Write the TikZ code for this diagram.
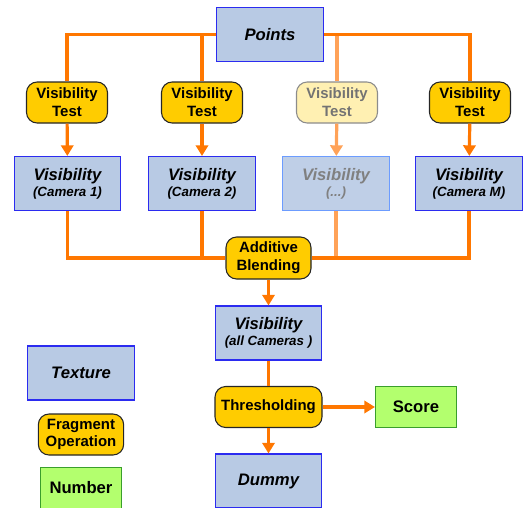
\documentclass[tikz,border=0pt]{standalone}
\usepackage{fontspec}
\setmainfont{Liberation Sans}
\usetikzlibrary{arrows.meta, positioning}

\definecolor{texfill}{HTML}{B8CAE4}
\definecolor{texline}{HTML}{2B2BF0}
\definecolor{texpale}{HTML}{6C9CFF}
\definecolor{opfill}{HTML}{FFCC00}
\definecolor{numfill}{HTML}{B3FF6E}
\definecolor{numline}{HTML}{3A9E2C}
\definecolor{flow}{HTML}{FF7700}
\definecolor{flowpale}{HTML}{FFA258}

\newcommand{\vislabel}[1]{Visibility\\[-1pt]{\fontsize{10}{11}\selectfont #1}}

\begin{document}
\begin{tikzpicture}[
  x=0.75pt, y=-0.75pt,
  tex/.style={
    rectangle, draw=texline, fill=texfill, line width=0.8pt,
    minimum width=80pt, minimum height=40.5pt, inner sep=0pt,
    align=center, font=\fontsize{12.5}{13}\selectfont\bfseries\itshape
  },
  fragop/.style={
    rectangle, draw=black!85, fill=opfill, line width=0.8pt,
    rounded corners=8pt,
    minimum width=60.75pt, minimum height=30.75pt, inner sep=0pt,
    align=center, font=\fontsize{11.2}{13.3}\selectfont\bfseries
  },
  numbox/.style={
    rectangle, draw=numline, fill=numfill, line width=0.8pt,
    minimum width=60.75pt, minimum height=30.75pt, inner sep=0pt,
    align=center, font=\fontsize{12.5}{13}\selectfont\bfseries
  },
  link/.style={draw=flow, line width=2.4pt},
  arr/.style={link, -{Triangle[width=9.2pt, length=8pt]}}
]
  \useasboundingbox (0,0) rectangle (528,507);

  % source and per-camera chains
  \node[tex] (points) at (270,34.5) {Points};

  \node[fragop] (test1) at (67,102.5)  {Visibility\\Test};
  \node[fragop] (test2) at (202,102.5) {Visibility\\Test};
  \node[fragop, draw=black!45, fill=opfill!30, text=black!55] (test3) at (337,102.5) {Visibility\\Test};
  \node[fragop] (test4) at (470,102.5) {Visibility\\Test};

  \node[tex] (vis1) at (67.5,183.5) {\vislabel{(Camera 1)}};
  \node[tex] (vis2) at (202,183.5)  {\vislabel{(Camera 2)}};
  \node[tex, draw=texpale, fill=texfill!90!white, text=black!50] (vis3) at (336,183.5) {\vislabel{(...)}};
  \node[tex] (vis4) at (469,183.5)  {\vislabel{(Camera M)}};

  % blending and result
  \node[fragop, minimum width=63.75pt, minimum height=31.5pt] (blend) at (268.5,258) {Additive\\Blending};
  \node[tex] (visall) at (268.5,333) {\vislabel{(all Cameras )}};
  \node[fragop, minimum width=80.25pt] (thresh) at (268.5,407) {Thresholding};
  \node[numbox] (score) at (416,407) {Score};
  \node[tex] (dummy) at (268.5,481) {Dummy};

  % legend
  \node[tex] (legtex) at (81,373) {Texture};
  \node[fragop, minimum width=64pt] (legop) at (81,434.5) {Fragment\\Operation};
  \node[numbox] (legnum) at (81,488) {Number};

  % fan out
  \draw[link, draw=flowpale] (points.east) -| (test3.north);
  \draw[link] (points.west) -| (test1.north);
  \draw[link] (points.west) -| (test2.north);
  \draw[link] (points.east) -| (test4.north);

  \draw[arr] (test1) -- (vis1);
  \draw[arr] (test2) -- (vis2);
  \draw[arr, draw=flowpale, fill=flowpale] (test3) -- (vis3);
  \draw[arr] (test4) -- (vis4);

  % gather
  \draw[link, draw=flowpale] (vis3.south) |- (blend.east);
  \draw[link] (vis1.south) |- (blend.west);
  \draw[link] (vis2.south) |- (blend.west);
  \draw[link] (vis4.south) |- (blend.east);

  \draw[arr] (blend) -- (visall);
  \draw[link] (visall) -- (thresh);
  \draw[arr] (thresh) -- (score);
  \draw[arr] (thresh) -- (dummy);
\end{tikzpicture}
\end{document}
